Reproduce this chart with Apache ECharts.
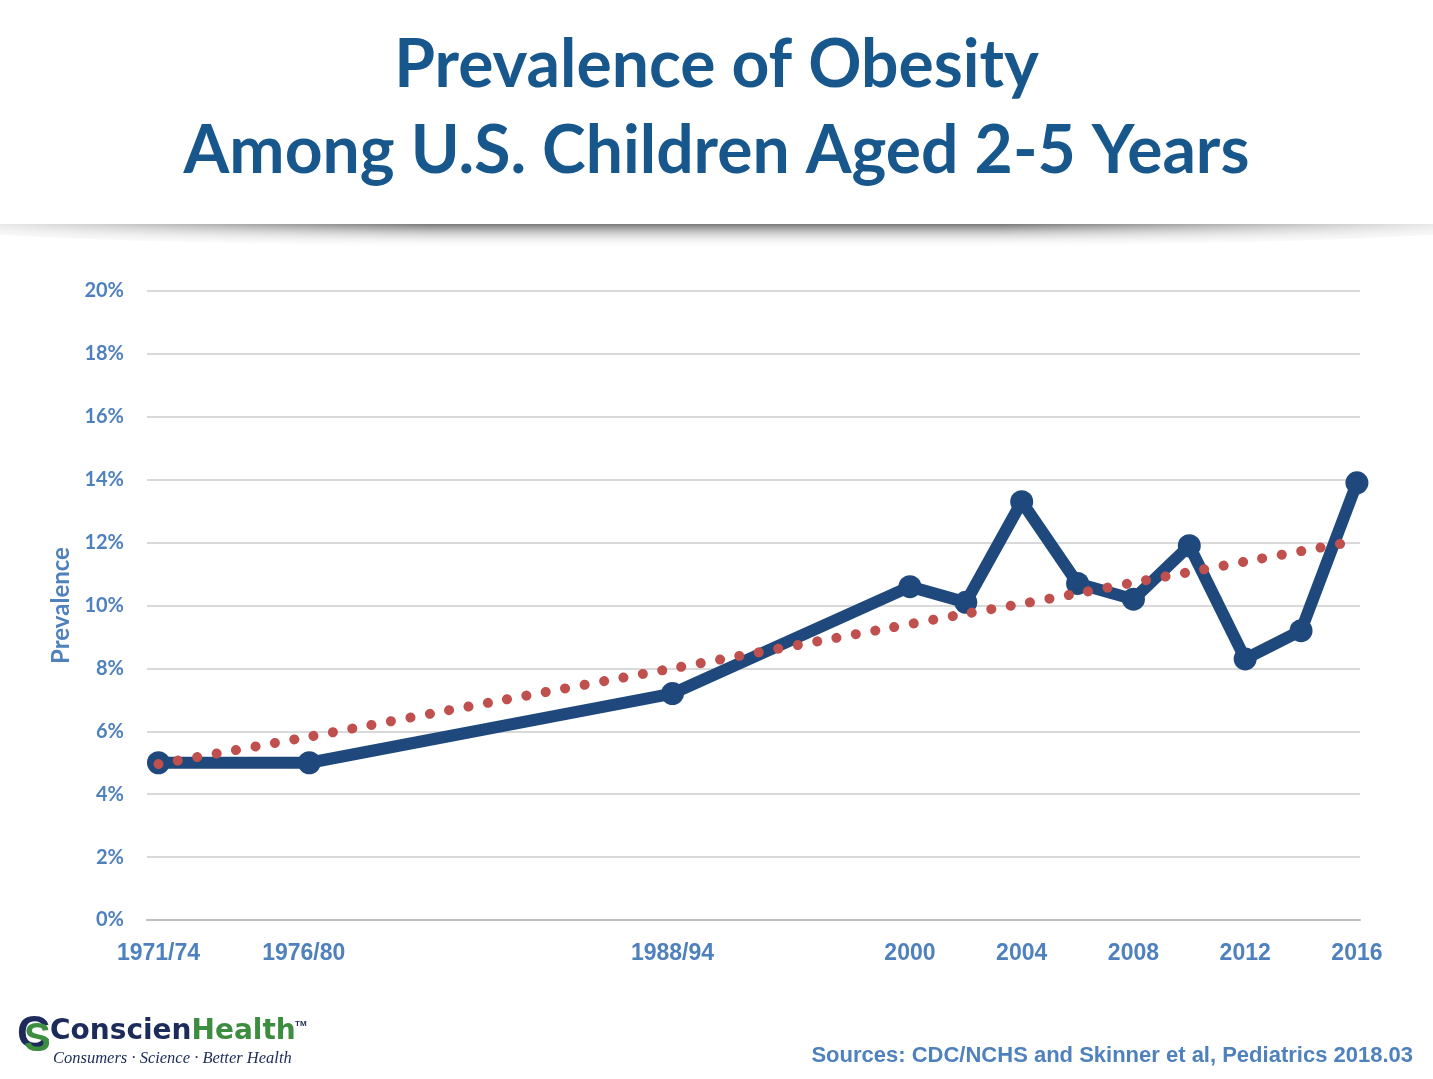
<!DOCTYPE html>
<html>
<head>
<meta charset="utf-8">
<script src="https://cdn.jsdelivr.net/npm/echarts@6/dist/echarts.min.js"></script>
<style>
html,body{margin:0;padding:0;background:#fff;}
#chart{width:1433px;height:1079px;}
</style>
</head>
<body>
<div id="chart"></div>
<script>
// ---- data ----
const years = [1973.1, 1978.5, 1991.5, 2000, 2002, 2004, 2006, 2008, 2010, 2012, 2014, 2016];
const prevalence = [5.0, 5.0, 7.2, 10.6, 10.1, 13.3, 10.7, 10.2, 11.9, 8.3, 9.2, 13.9];
const trendYears = [1973.1, 1978.5, 1985.1, 1991.5, 1999.1, 2002.0, 2004.1, 2006.2, 2008.3, 2010.4, 2012.5, 2015.4];
const trendValues = [4.96, 5.83, 6.94, 8.0, 9.26, 9.74, 10.07, 10.42, 10.78, 11.13, 11.48, 11.96];
const xTickValues = [1973.1, 1978.3, 1991.5, 2000, 2004, 2008, 2012, 2016];
const xTickLabels = ['1971/74', '1976/80', '1988/94', '2000', '2004', '2008', '2012', '2016'];

const titleText = 'Prevalence of Obesity\nAmong U.S. Children Aged 2-5 Years';
const sourceText = 'Sources: CDC/NCHS and Skinner et al, Pediatrics 2018.03';

const chart = echarts.init(document.getElementById('chart'), null, {renderer: 'canvas'});
const axisBlue = '#4F81BD';

const option = {
  backgroundColor: '#ffffff',
  animation: false,
  title: {
    text: titleText,
    left: 'center',
    top: 18,
    textStyle: {
      fontFamily: 'Lato',
      fontWeight: 'bold',
      fontSize: 66,
      lineHeight: 86,
      color: '#17578C'
    }
  },
  grid: {left: 147, right: 73, top: 291, bottom: 159, containLabel: false},
  xAxis: {
    type: 'value',
    min: 1972.69,
    max: 2016.11,
    axisLine: {show: true, lineStyle: {color: '#bfbfbf', width: 2}},
    axisTick: {show: false},
    splitLine: {show: false},
    axisLabel: {
      customValues: xTickValues,
      formatter: function (v) {
        let best = 0, d = 1e9;
        xTickValues.forEach((t, i) => { if (Math.abs(t - v) < d) { d = Math.abs(t - v); best = i; } });
        return xTickLabels[best];
      },
      margin: 22,
      color: axisBlue,
      fontFamily: 'Liberation Sans',
      fontWeight: 'bold',
      fontSize: 23
    }
  },
  yAxis: {
    type: 'value',
    min: 0,
    max: 20,
    interval: 2,
    name: 'Prevalence',
    nameLocation: 'middle',
    nameGap: 72,
    nameRotate: 90,
    nameTextStyle: {color: axisBlue, fontFamily: 'Lato', fontWeight: 'bold', fontSize: 24},
    axisLine: {show: false},
    axisTick: {show: false},
    splitLine: {lineStyle: {color: '#d9d9d9', width: 2}},
    axisLabel: {
      formatter: '{value}%',
      margin: 23,
      color: axisBlue,
      fontFamily: 'Lato',
      fontWeight: 'bold',
      fontSize: 20
    }
  },
  series: [
    {
      type: 'line',
      data: years.map((y, i) => [y, prevalence[i]]),
      symbol: 'circle',
      symbolSize: 23,
      lineStyle: {color: '#1F497D', width: 12, join: 'round'},
      itemStyle: {color: '#1F497D'},
      z: 2
    },
    {
      type: 'line',
      data: trendYears.map((y, i) => [y, trendValues[i]]),
      symbol: 'none',
      smooth: 0.3,
      lineStyle: {color: '#C0504D', width: 10, type: [0.1, 19.6], cap: 'round'},
      z: 3
    }
  ],
  graphic: [
    // header shadow
    {
      type: 'ellipse', z: 0, silent: true,
      shape: {cx: 716, cy: 224, rx: 800, ry: 24},
      style: {
        fill: new echarts.graphic.LinearGradient(0, 0, 0, 1, [
          {offset: 0, color: 'rgba(105,105,105,1)'},
          {offset: 0.5, color: 'rgba(105,105,105,1)'},
          {offset: 0.72, color: 'rgba(185,185,185,0.65)'},
          {offset: 1, color: 'rgba(255,255,255,0)'}
        ])
      }
    },
    {
      type: 'rect', z: 1, silent: true,
      shape: {x: 0, y: 0, width: 1433, height: 224},
      style: {fill: '#ffffff'}
    },
    {
      type: 'rect', z: 1, silent: true,
      shape: {x: 0, y: 224, width: 1433, height: 26},
      style: {
        fill: new echarts.graphic.LinearGradient(0, 0, 1, 0, [
          {offset: 0, color: 'rgba(255,255,255,0.85)'},
          {offset: 0.3, color: 'rgba(255,255,255,0.1)'},
          {offset: 0.7, color: 'rgba(255,255,255,0.1)'},
          {offset: 1, color: 'rgba(255,255,255,0.85)'}
        ])
      }
    },
    // logo mark
    {
      type: 'text', z: 5, left: 17, top: 1012,
      style: {text: 'C', font: 'bold 46px "Liberation Sans"', fill: '#1C2B5A'}
    },
    {
      type: 'text', z: 6, left: 24, top: 1020,
      style: {text: 'S', font: 'bold 40px "Liberation Sans"', fill: '#3C8D3F'}
    },
    {
      type: 'text', z: 5, left: 50, top: 1018,
      style: {
        text: '{a|Conscien}{b|Health}',
        rich: {
          a: {font: 'bold 28px "DejaVu Sans"', fill: '#1C2B5A', color: '#1C2B5A'},
          b: {font: 'bold 28px "DejaVu Sans"', fill: '#3C8D3F', color: '#3C8D3F'}
        }
      }
    },
    {
      type: 'text', z: 5, left: 295, top: 1020,
      style: {text: 'TM', font: 'bold 8px "Liberation Sans"', fill: '#1C2B5A'}
    },
    {
      type: 'text', z: 5, left: 53, top: 1050,
      style: {text: 'Consumers · Science · Better Health', font: 'italic 16.5px "Liberation Serif"', fill: '#1C2B5A'}
    },
    // sources
    {
      type: 'text', z: 5, right: 20, top: 1045,
      style: {text: sourceText, font: 'bold 22px "Liberation Sans"', fill: axisBlue}
    }
  ]
};
chart.setOption(option);
</script>
</body>
</html>
